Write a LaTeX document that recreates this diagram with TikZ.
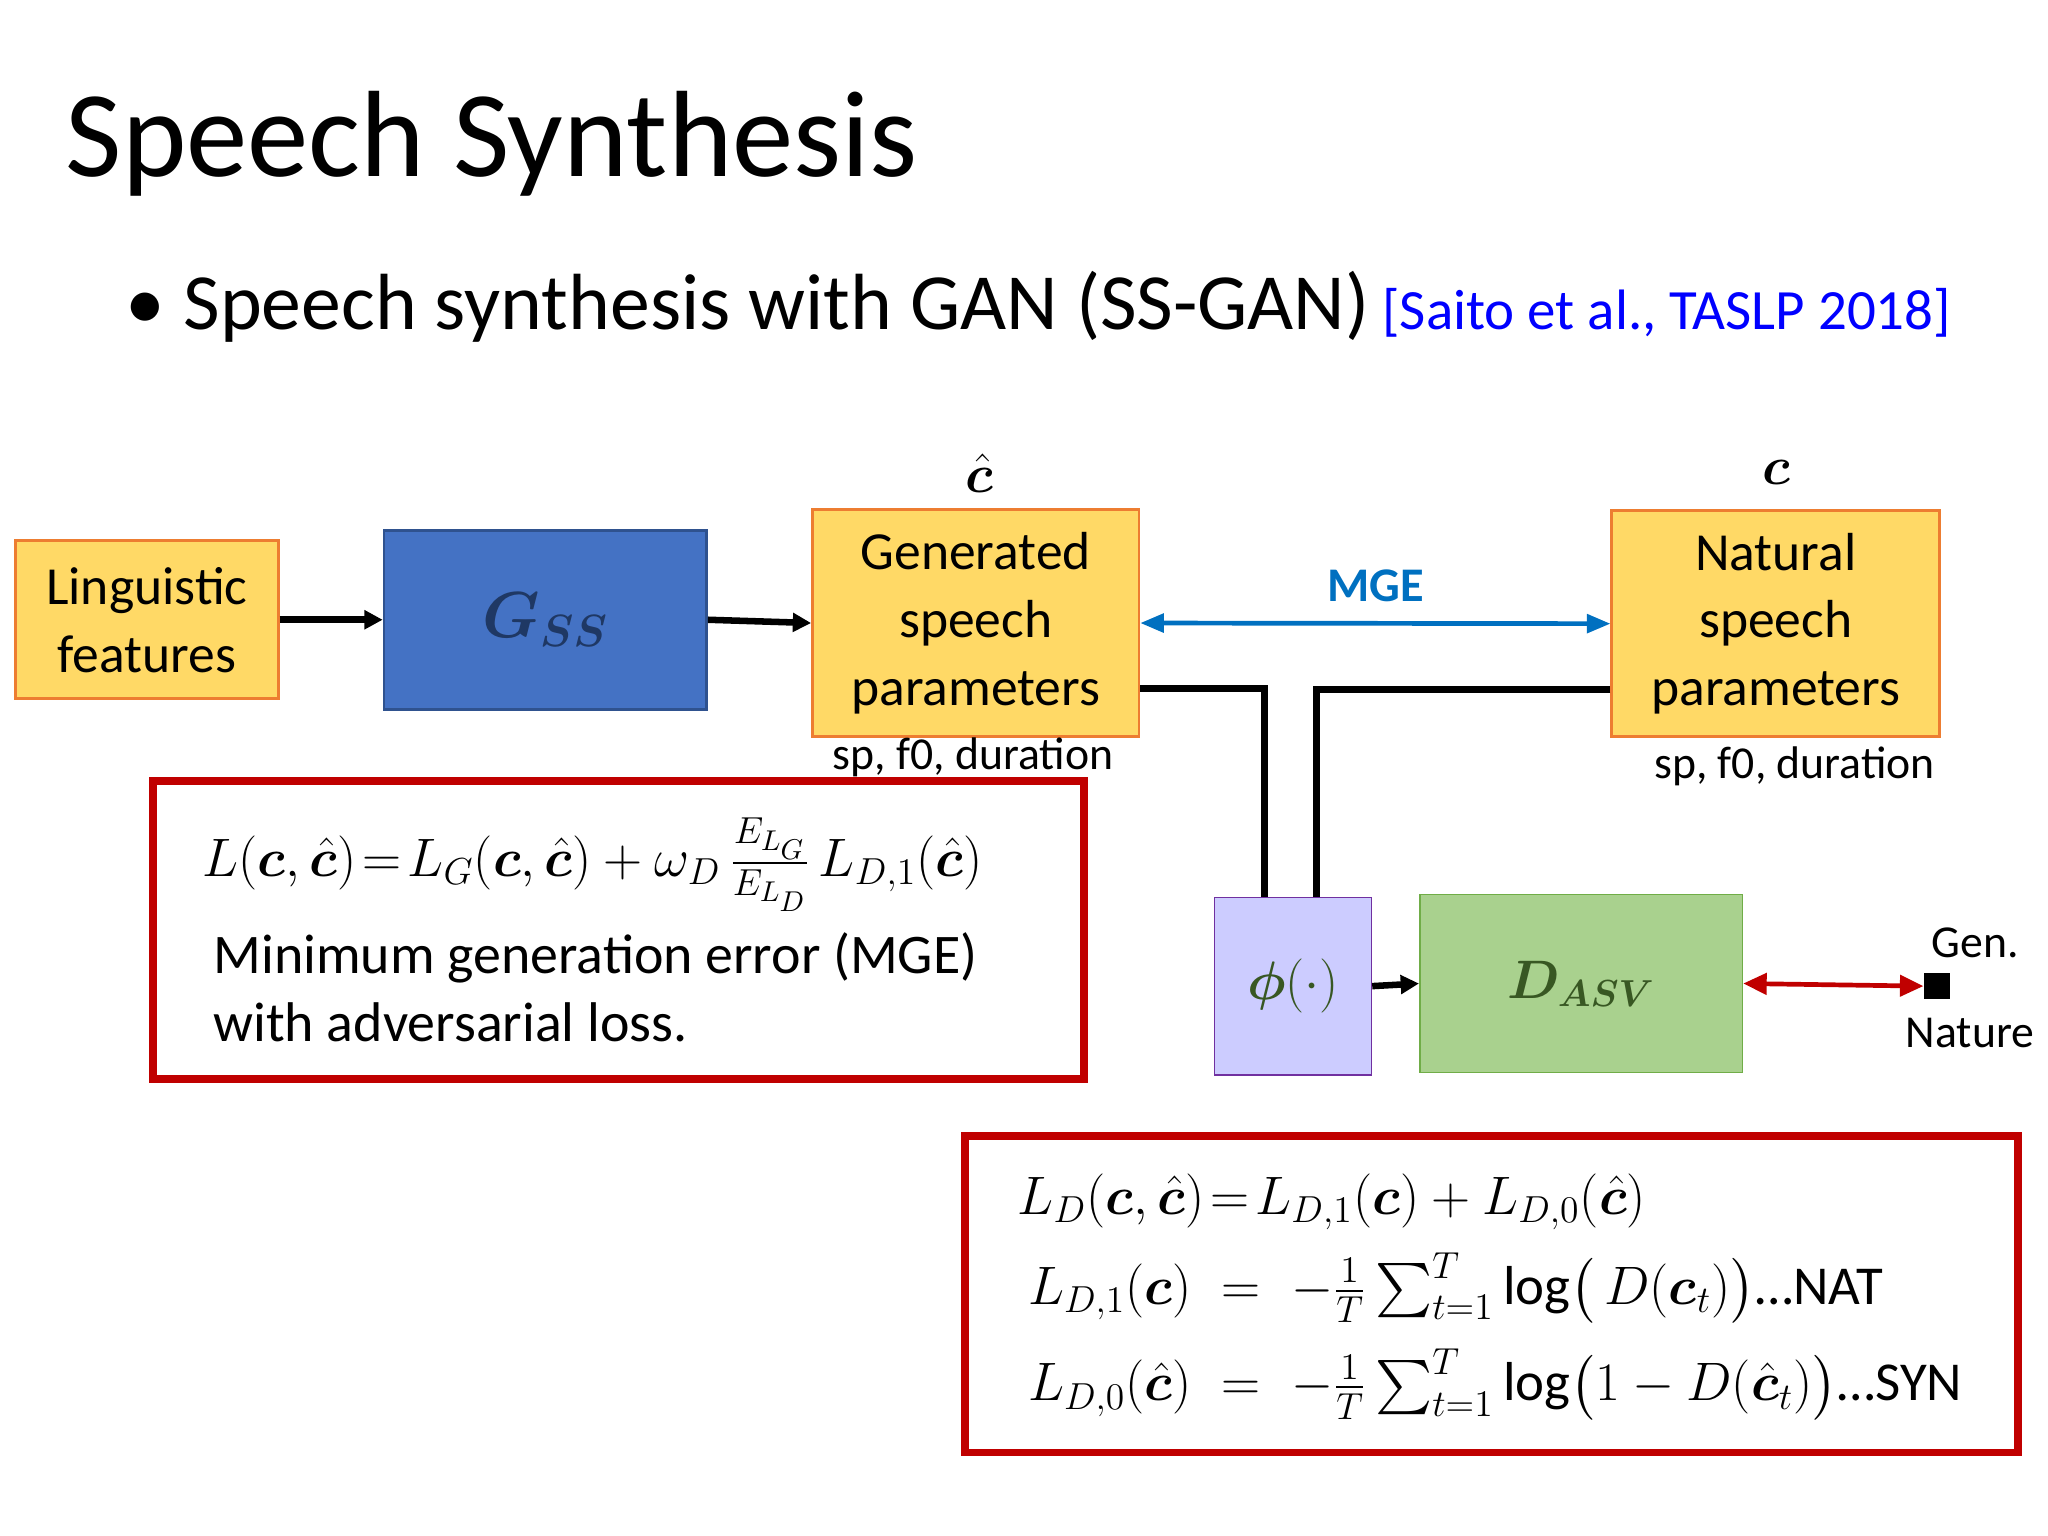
\documentclass[tikz,border=0pt]{standalone}
\usepackage{amsmath,bm}
\usepackage{fontspec}
\setmainfont{Carlito}
\usetikzlibrary{arrows.meta}
\definecolor{boxY}{HTML}{FFD966}
\definecolor{boxYb}{HTML}{ED7D31}
\definecolor{gblue}{HTML}{4472C4}
\definecolor{gblueb}{HTML}{2F528F}
\definecolor{dblue}{HTML}{1F3864}
\definecolor{mgeblue}{HTML}{0070C0}
\definecolor{phif}{HTML}{CCCCFF}
\definecolor{phib}{HTML}{7030A0}
\definecolor{dgreen}{HTML}{A9D18E}
\definecolor{dgreenb}{HTML}{70AD47}
\definecolor{dgtext}{HTML}{385723}
\definecolor{redb}{HTML}{C00000}
\begin{document}
\begin{tikzpicture}[x=0.5pt,y=-0.5pt,
  ybox/.style={draw=boxYb,fill=boxY,line width=1pt,align=center,font=\fontsize{20.5}{26}\selectfont},
  arr/.style={-{Triangle[length=7pt,width=7pt]},line width=2.5pt},
  wire/.style={line width=2.5pt},
  redbox/.style={draw=redb,line width=3pt},
  lbl/.style={font=\fontsize{17.5}{20}\selectfont}]
\useasboundingbox (0,0) rectangle (1568,1176);
\node[anchor=base west,inner sep=0pt,font=\fontsize{47}{56}\selectfont] (title) at (50,135) {Speech Synthesis};
\node[anchor=base west,inner sep=0pt,font=\fontsize{30.5}{36}\selectfont] (bul) at (96,252) {\textbullet\ Speech synthesis with GAN (SS-GAN)};
\node[anchor=base west,inner sep=0pt,font=\fontsize{21.8}{26}\selectfont,text=blue] (cite) at (1058,252) {[Saito et al., TASLP 2018]};
% boxes
\node[ybox,minimum width=100.5pt,minimum height=60.5pt] (ling) at (112.5,474.5) {Linguistic\\features};
\node[draw=gblueb,fill=gblue,line width=1pt,minimum width=123.5pt,minimum height=68.5pt,font=\fontsize{24}{28}\selectfont,text=dblue] (gss) at (417.5,474.5) {$\bm{G_{SS}}$};
\node[ybox,minimum width=125pt,minimum height=87pt] (gen) at (747,477) {Generated\\speech\\parameters};
\node[ybox,minimum width=125.5pt,minimum height=86.5pt] (nat) at (1359.5,477.5) {Natural\\speech\\parameters};
\node[font=\fontsize{20}{24}\selectfont] (chat) at (750,362) {$\bm{\hat c}$};
\node[font=\fontsize{20}{24}\selectfont] (cnat) at (1360,362) {$\bm{c}$};
\node[lbl] (sp1) at (745,580) {sp, f0, duration};
\node[lbl] (sp2) at (1374,587) {sp, f0, duration};
\node[draw=phib,fill=phif,line width=0.6pt,minimum width=60pt,minimum height=68pt,font=\fontsize{22}{26}\selectfont,text=dgtext] (phi) at (990,755) {$\bm{\phi}(\cdot)$};
\node[draw=dgreenb,fill=dgreen,line width=0.6pt,minimum width=123.5pt,minimum height=68pt,font=\fontsize{22}{26}\selectfont,text=dgtext] (dasv) at (1210.5,753) {$\bm{D_{ASV}}$};
\node[fill=black,minimum size=10pt,inner sep=0pt] (sq) at (1483,755) {};
\node[lbl,anchor=west] (gent) at (1472,722) {Gen.};
\node[lbl,anchor=west] (natt) at (1452,791) {Nature};
% arrows
\draw[arr] (ling.east) -- (gss.west);
\draw[arr] (gss.east) -- (gen.west);
\draw[{Triangle[length=9pt,width=7pt]}-{Triangle[length=9pt,width=7pt]},line width=1.8pt,draw=mgeblue] (gen.east) -- node[above=4pt,font=\fontsize{18.5}{20}\selectfont\bfseries,text=mgeblue]{MGE} (nat.west);
\coordinate (g1) at (968,527);
\coordinate (n1) at (1008,528);
\draw[wire] (gen.east |- g1) -- (g1) -- (g1 |- phi.north);
\draw[wire] (nat.west |- n1) -- (n1) -- (n1 |- phi.north);
\draw[arr] (phi.east) -- (dasv.west);
\draw[{Triangle[length=9pt,width=8pt]}-{Triangle[length=9pt,width=8pt]},line width=1.8pt,draw=redb] (dasv.east) -- (sq.west);
% red boxes
\node[redbox,minimum width=356.5pt,minimum height=114pt] (rb1) at (473.5,712) {};
\node[anchor=west,font=\fontsize{21.5}{24}\selectfont] (eq1) at (148,662) {$L(\bm c,\bm{\hat c})\!=\!L_G(\bm c,\bm{\hat c})+\omega_D\,\frac{E_{L_G}}{E_{L_D}}\,L_{D,1}(\bm{\hat c})$};
\node[anchor=north west,align=left,inner sep=0pt,font=\fontsize{21.4}{26}\selectfont] (mge) at (163,714) {Minimum generation error (MGE)\\with adversarial loss.};
\node[redbox,minimum width=403pt,minimum height=121pt] (rb2) at (1142,991) {};
\node[anchor=west,font=\fontsize{21}{24}\selectfont] (e1) at (772,920) {$L_D(\bm c,\bm{\hat c})\!=\!L_{D,1}(\bm c)+L_{D,0}(\bm{\hat c})$};
\node[anchor=west,font=\fontsize{21}{24}\selectfont] (e2) at (780,986) {$L_{D,1}(\bm c)\;=\;-\frac{1}{T}\sum_{t=1}^{T}\log\!\big(\,D(\bm c_t)\big)$\ldots NAT};
\node[anchor=west,font=\fontsize{21}{24}\selectfont] (e3) at (780,1060) {$L_{D,0}(\bm{\hat c})\;=\;-\frac{1}{T}\sum_{t=1}^{T}\log\!\big(1-D(\bm{\hat c}_t)\big)$\ldots SYN};
\end{tikzpicture}
\end{document}
